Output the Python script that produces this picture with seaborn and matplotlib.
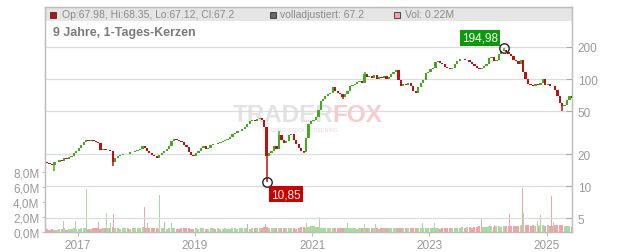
import numpy as np
import pandas as pd
import matplotlib
matplotlib.use("Agg")
import matplotlib.pyplot as plt
import matplotlib.dates as mdates
from matplotlib.patches import Rectangle
from matplotlib.ticker import FixedLocator, FuncFormatter, NullLocator
import seaborn as sns

# ---------------- data (semi-monthly candles) ----------------
first_open = 16.8
closes = [
    16.5, 16.0, 15.8, 16.8, 17.0, 17.5, 17.2, 18.2, 18.0, 18.8,
    19.2, 20.5, 21.5, 23.0, 24.5, 26.0, 27.0, 26.3, 26.8, 26.2,
    26.0, 25.5, 22.0, 22.3, 21.8, 22.0, 21.5, 17.0, 18.5, 19.0,
    19.5, 19.8, 20.2, 20.0, 20.8, 21.0, 21.5, 22.0, 22.5, 24.0,
    23.0, 21.5, 20.5, 19.5, 19.0, 18.3, 19.5, 20.5, 21.5, 22.5,
    24.0, 26.5, 27.5, 27.0, 26.5, 26.0, 24.5, 23.5, 21.0, 19.5,
    19.0, 20.5, 21.5, 23.0, 24.0, 22.5, 23.0, 24.5, 25.0, 24.8,
    25.2, 25.8, 26.5, 27.0, 27.8, 29.0, 30.5, 31.5, 32.5, 33.0,
    34.5, 36.0, 38.0, 40.5, 42.0, 41.0, 42.5, 43.0, 41.5, 36.0,
    19.0, 20.5, 21.5, 24.0, 22.5, 30.0, 27.0, 25.5, 26.5, 30.0,
    31.0, 27.0, 25.0, 23.0, 21.5, 21.0, 28.0, 38.0, 41.0, 42.0,
    44.0, 52.0, 62.0, 66.0, 70.0, 73.0, 74.0, 84.0, 78.0, 75.0,
    72.0, 68.0, 72.0, 78.0, 86.0, 88.0, 90.0, 94.0, 96.0, 93.0,
    112.0, 104.0, 108.0, 102.0, 110.0, 100.0, 106.0, 102.0, 108.0, 100.0,
    105.0, 112.0, 118.0, 122.0, 98.0, 86.0, 90.0, 88.0, 92.0, 86.0,
    78.0, 74.0, 84.0, 92.0, 98.0, 115.0, 118.0, 125.0, 128.0, 145.0,
    148.0, 142.0, 138.0, 130.0, 127.0, 124.0, 126.0, 138.0, 148.0, 155.0,
    156.0, 150.0, 152.0, 146.0, 140.0, 132.0, 126.0, 124.0, 128.0, 134.0,
    140.0, 158.0, 160.0, 148.0, 152.0, 172.0, 185.0, 188.0, 180.0, 172.0,
    165.0, 152.0, 148.0, 140.0, 150.0, 118.0, 100.0, 90.0, 88.0, 86.0,
    90.0, 88.0, 92.0, 100.0, 88.0, 90.0, 87.0, 86.0, 80.0, 70.0,
    60.0, 56.0, 58.0, 64.0, 69.0, 67.2,
]
# notable wicks (candle index -> value)
wick_high_idx = [187, 143, 130, 95]
wick_high_val = [194.98, 123.0, 116.0, 33.0]
wick_low_idx = [3, 27, 90, 105, 211, 121]
wick_low_val = [13.8, 15.6, 10.85, 20.4, 50.0, 66.0]

volumes_m = [
    0.35, 0.3, 0.4, 0.25, 0.3, 0.35, 0.45, 0.5, 0.3, 0.4, 0.35, 0.5, 0.45, 0.4, 0.55, 0.6, 0.5, 0.45, 0.4, 0.55, 0.5, 0.6, 0.45, 0.5,
    0.55, 0.5, 0.6, 0.7, 0.55, 0.5, 0.45, 0.6, 0.5, 0.55, 0.45, 0.5, 0.6, 0.55, 0.5, 0.65, 0.6, 0.55, 0.5, 0.6, 0.55, 0.5, 0.45, 0.55,
    0.5, 0.45, 0.6, 0.55, 0.5, 0.4, 0.45, 0.5, 0.55, 0.6, 0.5, 0.45, 0.4, 0.5, 0.45, 0.55, 0.5, 0.45, 0.4, 0.5, 0.55, 0.45, 0.5, 0.4,
    0.45, 0.5, 0.4, 0.45, 0.5, 0.55, 0.45, 0.5, 0.55, 0.6, 0.5, 0.45, 0.55, 0.5, 0.6, 0.55, 0.5, 0.65, 0.7, 0.6, 0.55, 0.5, 0.6, 0.55,
    0.5, 0.55, 0.6, 0.5, 0.55, 0.5, 0.45, 0.6, 0.7, 0.65, 0.6, 0.7, 0.75, 0.8, 0.7, 0.65, 0.6, 0.55, 0.6, 0.5, 0.55, 0.6, 0.5, 0.55,
    0.5, 0.55, 0.6, 0.5, 0.55, 0.6, 0.5, 0.45, 0.55, 0.6, 0.5, 0.55, 0.5, 0.6, 0.55, 0.5, 0.45, 0.55, 0.6, 0.5, 0.55, 0.6, 0.5, 0.55,
    0.6, 0.55, 0.5, 0.6, 0.55, 0.5, 0.6, 0.55, 0.5, 0.55, 0.6, 0.5, 0.55, 0.6, 0.5, 0.55, 0.5, 0.45, 0.55, 0.5, 0.6, 0.55, 0.5, 0.6,
    0.55, 0.6, 0.65, 0.6, 0.7, 0.65, 0.6, 0.7, 0.65, 0.75, 0.7, 0.65, 0.7, 0.75, 0.8, 0.7, 0.75, 0.8, 0.7, 0.75, 0.8, 0.85, 0.75, 0.8,
    0.85, 0.8, 0.9, 0.85, 0.9, 0.95, 0.85, 0.9, 0.8, 0.85, 0.9, 0.95, 0.85, 0.9, 0.8, 0.85, 0.9, 0.95, 1.0, 0.9, 0.85, 0.8, 0.75, 0.7,
]

spike_dates = ["2016-10-02", "2016-12-08", "2016-12-17", "2017-02-22", "2017-05-11", "2017-06-28",
               "2017-07-25", "2017-08-09", "2018-02-18", "2018-03-11", "2018-04-26", "2018-05-23",
               "2018-06-23", "2018-08-08", "2019-07-01", "2019-11-23", "2020-03-17", "2020-11-24",
               "2021-02-14", "2021-08-09", "2021-11-21", "2022-02-01", "2022-05-06", "2022-11-18",
               "2023-01-30", "2023-11-20", "2024-02-08", "2024-05-12", "2024-08-03", "2024-08-09",
               "2024-11-04", "2024-11-24", "2025-02-01", "2025-02-10", "2025-03-18"]
spike_vol_m = [1.5, 7.1, 1.5, 5.8, 1.3, 2.5, 1.2, 2.4, 3.3, 1.2, 1.4, 4.9, 1.3, 1.2, 1.3, 1.1, 1.1, 1.2,
               2.0, 1.2, 1.1, 1.1, 1.75, 1.2, 1.2, 1.8, 1.0, 2.4, 5.9, 2.6, 1.5, 2.3, 4.8, 1.3, 2.8]
spike_up = [1, 1, 1, 1, 0, 1, 1, 0, 0, 1, 1, 1, 0, 1, 1, 0, 0, 1,
            1, 1, 1, 1, 1, 1, 1, 0, 0, 0, 0, 1, 1, 1, 0, 1, 0]

price_ticks = [5, 10, 20, 50, 100, 200]
vol_ticks_m = [0, 2, 4, 6, 8]
year_ticks = ["2017", "2019", "2021", "2023", "2025"]

# ---------------- table ----------------
dates = pd.date_range("2016-06-15", periods=len(closes), freq="SMS") + pd.Timedelta(days=7)
df = pd.DataFrame({"date": dates, "close": closes})
df["open"] = [first_open] + closes[:-1]
df["high"] = df[["open", "close"]].max(axis=1)
df["low"] = df[["open", "close"]].min(axis=1)
for i, v in zip(wick_high_idx, wick_high_val):
    df.loc[i, "high"] = v
for i, v in zip(wick_low_idx, wick_low_val):
    df.loc[i, "low"] = v
df["up"] = df["close"] >= df["open"]
df["vol"] = np.array(volumes_m) * 1e6

spk = pd.DataFrame({"date": pd.to_datetime(spike_dates), "vol": np.array(spike_vol_m) * 1e6,
                    "up": np.array(spike_up, dtype=bool)})

# ---------------- style ----------------
sns.set_theme(style="white")
plt.rcParams["font.family"] = ["Liberation Sans", "DejaVu Sans"]

RED = "#bb1111"
GREEN = "#44aa22"
PINK = "#f0a3a8"
LGREEN = "#a9dba0"
GRID = "#dcdcdc"
SPINE = "#bdbdbd"
TXT = "#999999"

W, H = 632, 253
fig = plt.figure(figsize=(W / 100, H / 100), dpi=100)
L, R, T, B = 45, 572, 8, 233
rect = [L / W, (H - B) / H, (R - L) / W, (B - T) / H]

ax_v = fig.add_axes(rect)
ax = ax_v.twinx()

xmin = pd.Timestamp("2016-06-10")
xmax = pd.Timestamp("2025-06-07")

# header band
ax_v.add_patch(Rectangle((0, (B - 22) / (B - T)), 1, 1 - (B - 22) / (B - T),
                         transform=ax_v.transAxes, color="#e5e5e5", zorder=0, lw=0))

# watermark (inside the lower axes so it stays behind the candles)
ax_v.text(283 / W, 1 - 115.5 / H, "TRADER", transform=fig.transFigure, fontsize=17.5,
          fontweight="bold", color="#e3e3e3", ha="center", va="center", zorder=0.6)
ax_v.text(357 / W, 1 - 115.5 / H, "FOX", transform=fig.transFigure, fontsize=17.5,
          fontweight="bold", color="#f7cccc", ha="center", va="center", zorder=0.6)
ax_v.text(300 / W, 1 - 130 / H, "TRADING STOCK SCREENING", transform=fig.transFigure, fontsize=3.8,
          color="#e8d6d6", ha="center", va="center", zorder=0.6)

# volume bars
ax_v.bar(df["date"], df["vol"], width=pd.Timedelta(days=13),
         color=np.where(df["up"], LGREEN, PINK), linewidth=0, zorder=2)
ax_v.bar(spk["date"], spk["vol"], width=pd.Timedelta(days=5),
         color=np.where(spk["up"], LGREEN, PINK), linewidth=0, zorder=3)
ax_v.set_ylim(0, 8e6 * (B - T) / 60.0)
ax_v.yaxis.set_major_locator(FixedLocator([v * 1e6 for v in vol_ticks_m]))
ax_v.yaxis.set_major_formatter(FuncFormatter(lambda v, p: f"{v/1e6:.1f}M".replace(".", ",")))
ax_v.tick_params(axis="y", which="both", left=True, right=False, labelleft=True, labelright=False,
                 direction="out", length=2.5, width=0.8, color=SPINE, pad=1.5, labelsize=8.5,
                 labelcolor=TXT)
ax_v.grid(False)

# candles
ax.set_yscale("log")
ax.vlines(df["date"], df["low"], df["high"], colors=np.where(df["up"], GREEN, RED),
          linewidth=1.1, zorder=4)
body_h = (df["close"] - df["open"]).abs()
ax.bar(df["date"], body_h, bottom=df[["open", "close"]].min(axis=1), width=pd.Timedelta(days=14),
       color=np.where(df["up"], GREEN, RED), linewidth=0, zorder=5)

p_top = 200 * 10 ** (40 / 107)
p_bot = 200 * 10 ** (-185 / 107)
ax.set_ylim(p_bot, p_top)
ax.yaxis.set_major_locator(FixedLocator(price_ticks))
ax.yaxis.set_minor_locator(NullLocator())
ax.yaxis.set_major_formatter(FuncFormatter(lambda v, p: f"{v:g}"))
ax.tick_params(axis="y", which="both", right=True, left=False, labelright=True, labelleft=False,
               direction="in", length=4, width=0.8, color="#aaaaaa", pad=4, labelsize=8.5,
               labelcolor=TXT)

year_locs = mdates.date2num(pd.to_datetime([y + "-01-01" for y in year_ticks]))
for a in (ax, ax_v):
    a.set_xlim(xmin, xmax)
    a.xaxis.set_major_locator(FixedLocator(year_locs))
ax_v.xaxis.set_major_formatter(FuncFormatter(lambda v, p: mdates.num2date(v).strftime("%Y")))
ax_v.tick_params(axis="x", bottom=True, direction="out", length=3, width=0.8, color=SPINE,
                 pad=2, labelsize=8.5, labelcolor=TXT)
ax.tick_params(axis="x", bottom=False, labelbottom=False)

ax.grid(True, axis="both", color=GRID, linewidth=0.9, zorder=1)
ax.set_axisbelow(True)
for a in (ax, ax_v):
    for s in a.spines.values():
        s.set_color(SPINE)
        s.set_linewidth(0.9)

# markers for extremes
hi_row = df.loc[wick_high_idx[0]]
lo_row = df.loc[wick_low_idx[2]]
ax.plot([hi_row["date"]], [hi_row["high"]], marker="o", ms=6.8, mfc="none", mec="#222222", mew=1.0, zorder=7)
ax.plot([lo_row["date"]], [lo_row["low"]], marker="o", ms=6.8, mfc="none", mec="#222222", mew=1.0, zorder=7)
ax.annotate(f"{hi_row['high']:.2f}".replace(".", ","), (hi_row["date"], hi_row["high"]),
            xytext=(-17, 7.5), textcoords="offset points", ha="center", va="center",
            fontsize=8.5, color="white", zorder=8,
            bbox=dict(boxstyle="square,pad=0.15", fc="#0a9a0a", ec="none"))
ax.annotate(f"{lo_row['low']:.2f}".replace(".", ","), (lo_row["date"], lo_row["low"]),
            xytext=(14, -8.5), textcoords="offset points", ha="center", va="center",
            fontsize=8.5, color="white", zorder=8,
            bbox=dict(boxstyle="square,pad=0.15", fc="#cc0000", ec="none"))

# header
def sq(x, color):
    fig.patches.append(Rectangle((x / W, 1 - 19 / H), 6 / W, 6 / H, transform=fig.transFigure,
                                 facecolor=color, edgecolor="#333333", linewidth=0.6))

sq(50, "#bb1111")
fig.text(62 / W, 1 - 15.5 / H, "Op:67.98, Hi:68.35, Lo:67.12, Cl:67.2", fontsize=7.5, color="#8a8a8a",
         ha="left", va="center")
sq(270, "#666666")
fig.text(280 / W, 1 - 15.5 / H, "volladjustiert: 67.2", fontsize=7.5, color="#8a8a8a", ha="left", va="center")
sq(394, "#f0a3a8")
fig.text(405 / W, 1 - 15.5 / H, "Vol: 0.22M", fontsize=7.5, color="#8a8a8a", ha="left", va="center")
fig.text(53 / W, 1 - 33 / H, "9 Jahre, 1-Tages-Kerzen", fontsize=9, fontweight="bold", color="#7a7a7a",
         ha="left", va="center")

fig.savefig("out.png", dpi=100)
